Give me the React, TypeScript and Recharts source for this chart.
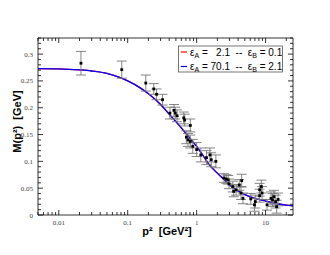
import React from 'react';
import { ComposedChart, XAxis, YAxis, Scatter, Line, ErrorBar } from 'recharts';

// ---- data ----
const pointsX = [0.021, 0.082, 0.183, 0.239, 0.262, 0.32, 0.41, 0.47, 0.49, 0.52, 0.65, 0.67, 0.71, 0.75, 0.81, 0.81, 0.88, 1.0, 1.15, 1.39, 1.56, 1.63, 1.9, 2.5, 2.7, 2.87, 2.95, 3.35, 3.45, 3.75, 4.15, 4.4, 4.5, 4.7, 6.1, 6.9, 7.1, 8.2, 8.2, 8.7, 8.9, 10.5, 12, 12.6, 13.2, 14, 14.5, 15.2];
const pointsY = [0.283, 0.271, 0.246, 0.235, 0.225, 0.215, 0.19, 0.195, 0.19, 0.185, 0.181, 0.177, 0.145, 0.14, 0.167, 0.137, 0.128, 0.122, 0.112, 0.107, 0.112, 0.103, 0.1, 0.069, 0.067, 0.0656, 0.058, 0.053, 0.044, 0.047, 0.056, 0.041, 0.064, 0.031, 0.03, 0.019, 0.025, 0.047, 0.036, 0.053, 0.041, 0.019, 0.031, 0.028, 0.034, 0.025, 0.0155, 0.029];
const pointsErr = [0.022, 0.016, 0.015, 0.01, 0.01, 0.01, 0.011, 0.011, 0.011, 0.011, 0.011, 0.011, 0.012, 0.012, 0.012, 0.012, 0.013, 0.013, 0.013, 0.013, 0.013, 0.013, 0.012, 0.008, 0.008, 0.008, 0.009, 0.01, 0.01, 0.01, 0.01, 0.012, 0.012, 0.01, 0.01, 0.012, 0.012, 0.012, 0.012, 0.012, 0.012, 0.01, 0.012, 0.012, 0.012, 0.012, 0.012, 0.012];

const curveX = [0.005, 0.01, 0.02, 0.03, 0.05, 0.076, 0.1, 0.15, 0.2, 0.3, 0.4, 0.5, 0.7, 1.0, 1.25, 1.5, 2.0, 2.5, 3.0, 4.0, 5.0, 7.0, 10.0, 15.0, 20.0, 25.0];
const curveRedY = [0.273, 0.2725, 0.2705, 0.2685, 0.264, 0.2565, 0.25, 0.2375, 0.226, 0.206, 0.188, 0.174, 0.152, 0.128, 0.11, 0.095, 0.078, 0.066, 0.056, 0.045, 0.038, 0.031, 0.026, 0.021, 0.0185, 0.017];
const curveBlueY = [0.273, 0.2725, 0.2705, 0.2685, 0.264, 0.2565, 0.25, 0.2375, 0.226, 0.206, 0.188, 0.174, 0.152, 0.128, 0.11, 0.095, 0.078, 0.066, 0.056, 0.045, 0.038, 0.031, 0.026, 0.021, 0.0185, 0.017];

const xTicks = [0.005, 0.006, 0.007, 0.008, 0.009, 0.01, 0.02, 0.03, 0.04, 0.05, 0.06, 0.07, 0.08, 0.09, 0.1, 0.2, 0.3, 0.4, 0.5, 0.6, 0.7, 0.8, 0.9, 1, 2, 3, 4, 5, 6, 7, 8, 9, 10, 20];
const xMajor = [0.01, 0.1, 1, 10];
const yTicks = [0, 0.01, 0.02, 0.03, 0.04, 0.05, 0.06, 0.07, 0.08, 0.09, 0.1, 0.11, 0.12, 0.13, 0.14, 0.15, 0.16, 0.17, 0.18, 0.19, 0.2, 0.21, 0.22, 0.23, 0.24, 0.25, 0.26, 0.27, 0.28, 0.29, 0.3, 0.31, 0.32, 0.33];
const yMajor = [0, 0.05, 0.1, 0.15, 0.2, 0.25, 0.3];

const scatterData = pointsX.map((x, i) => ({ x, y: pointsY[i], err: pointsErr[i] }));
const redData = curveX.map((x, i) => ({ x, y: curveRedY[i] }));
const blueData = curveX.map((x, i) => ({ x, y: curveBlueY[i] }));

const W = 314;
const H = 239;
const tickFont = '"Liberation Serif", serif';

const XTick = (props: any) => {
  const { x, y, payload, top } = props;
  const v = payload.value;
  const major = xMajor.includes(v);
  const len = major ? 5 : 3;
  const dir = top ? 1 : -1;
  return (
    <g>
      <line x1={x} x2={x} y1={y} y2={y + dir * len} stroke="#000" strokeWidth={0.8} />
      {!top && major ? (
        <text x={x} y={y + 10} textAnchor="middle" fontSize={7} fontFamily={tickFont} fill="#444">
          {String(v)}
        </text>
      ) : null}
    </g>
  );
};

const YTick = (props: any) => {
  const { x, y, payload, right } = props;
  const v = payload.value;
  const major = yMajor.includes(v);
  const len = major ? 5 : 3;
  const dir = right ? -1 : 1;
  return (
    <g>
      <line x1={x} x2={x + dir * len} y1={y} y2={y} stroke="#000" strokeWidth={0.8} />
      {!right && major ? (
        <text x={x - 5} y={y + 2.5} textAnchor="end" fontSize={7} fontFamily={tickFont} fill="#444">
          {String(v)}
        </text>
      ) : null}
    </g>
  );
};

const Dot = (props: any) => {
  const { cx, cy } = props;
  if (cx == null || cy == null) return null;
  return <rect x={cx - 1.4} y={cy - 1.4} width={2.8} height={2.8} fill="#000" />;
};

export default function App() {
  const sans = '"Liberation Sans", Arial, sans-serif';
  return (
    <div style={{ position: 'relative', width: W, height: H }}>
      <ComposedChart width={W} height={H} margin={{ top: 29, right: 28, bottom: 31, left: 29 }}>
        <XAxis
          xAxisId="b"
          dataKey="x"
          type="number"
          scale="log"
          domain={[0.005, 25]}
          allowDataOverflow
          ticks={xTicks}
          interval={0}
          height={1}
          tickSize={0}
          tickMargin={0}
          tickLine={false}
          axisLine={{ stroke: '#000', strokeWidth: 0.8 }}
          tick={<XTick />}
        />
        <XAxis
          xAxisId="t"
          orientation="top"
          dataKey="x"
          type="number"
          scale="log"
          domain={[0.005, 25]}
          allowDataOverflow
          ticks={xTicks}
          interval={0}
          height={1}
          tickSize={0}
          tickMargin={0}
          tickLine={false}
          axisLine={{ stroke: '#000', strokeWidth: 0.8 }}
          tick={<XTick top />}
        />
        <YAxis
          yAxisId="l"
          type="number"
          domain={[0, 0.33]}
          allowDataOverflow
          ticks={yTicks}
          interval={0}
          width={1}
          tickSize={0}
          tickMargin={0}
          tickLine={false}
          axisLine={{ stroke: '#000', strokeWidth: 0.8 }}
          tick={<YTick />}
        />
        <YAxis
          yAxisId="r"
          orientation="right"
          type="number"
          domain={[0, 0.33]}
          allowDataOverflow
          ticks={yTicks}
          interval={0}
          width={1}
          tickSize={0}
          tickMargin={0}
          tickLine={false}
          axisLine={{ stroke: '#000', strokeWidth: 0.8 }}
          tick={<YTick right />}
        />
        <Line
          xAxisId="b"
          yAxisId="l"
          data={redData}
          dataKey="y"
          type="monotone"
          stroke="#ff0000"
          strokeWidth={1.3}
          dot={false}
          isAnimationActive={false}
        />
        <Line
          xAxisId="b"
          yAxisId="l"
          data={blueData}
          dataKey="y"
          type="monotone"
          stroke="#0000ff"
          strokeWidth={1.3}
          dot={false}
          isAnimationActive={false}
        />
        <Scatter
          xAxisId="b"
          yAxisId="l"
          data={scatterData}
          dataKey="y"
          shape={<Dot />}
          isAnimationActive={false}
        >
          <ErrorBar dataKey="err" direction="y" width={5} stroke="#777" strokeWidth={0.9} />
        </Scatter>
      </ComposedChart>
      <svg
        width={W}
        height={H}
        style={{ position: 'absolute', left: 0, top: 0, pointerEvents: 'none' }}
      >
        <text
          x={159}
          y={227}
          textAnchor="middle"
          fontSize={11}
          fontWeight="bold"
          fontFamily={sans}
          style={{ whiteSpace: 'pre' }}
        >
          {'p²  [GeV²]'}
        </text>
        <text
          x={0}
          y={0}
          transform="translate(13,113.5) rotate(-90)"
          textAnchor="middle"
          fontSize={11}
          fontWeight="bold"
          fontFamily={sans}
          style={{ whiteSpace: 'pre' }}
        >
          {'M(p²)  [GeV]'}
        </text>
        <rect x={170.5} y={38} width={104} height={26} fill="#fff" stroke="#555" strokeWidth={0.8} />
        <line x1={172.7} x2={179} y1={44} y2={44} stroke="#ff0000" strokeWidth={1.2} />
        <line x1={172.7} x2={179} y1={58.5} y2={58.5} stroke="#0000ff" strokeWidth={1.2} />
        <text x={182} y={47.5} fontSize={10} fontFamily={sans} style={{ whiteSpace: 'pre' }}>
          {'ε'}
          <tspan fontSize={7} dy={2}>A</tspan>
          <tspan dy={-2}>{' =   2.1  --  ε'}</tspan>
          <tspan fontSize={7} dy={2}>B</tspan>
          <tspan dy={-2}>{' = 0.1'}</tspan>
        </text>
        <text x={182} y={62} fontSize={10} fontFamily={sans} style={{ whiteSpace: 'pre' }}>
          {'ε'}
          <tspan fontSize={7} dy={2}>A</tspan>
          <tspan dy={-2}>{' = 70.1  --  ε'}</tspan>
          <tspan fontSize={7} dy={2}>B</tspan>
          <tspan dy={-2}>{' = 2.1'}</tspan>
        </text>
      </svg>
    </div>
  );
}
